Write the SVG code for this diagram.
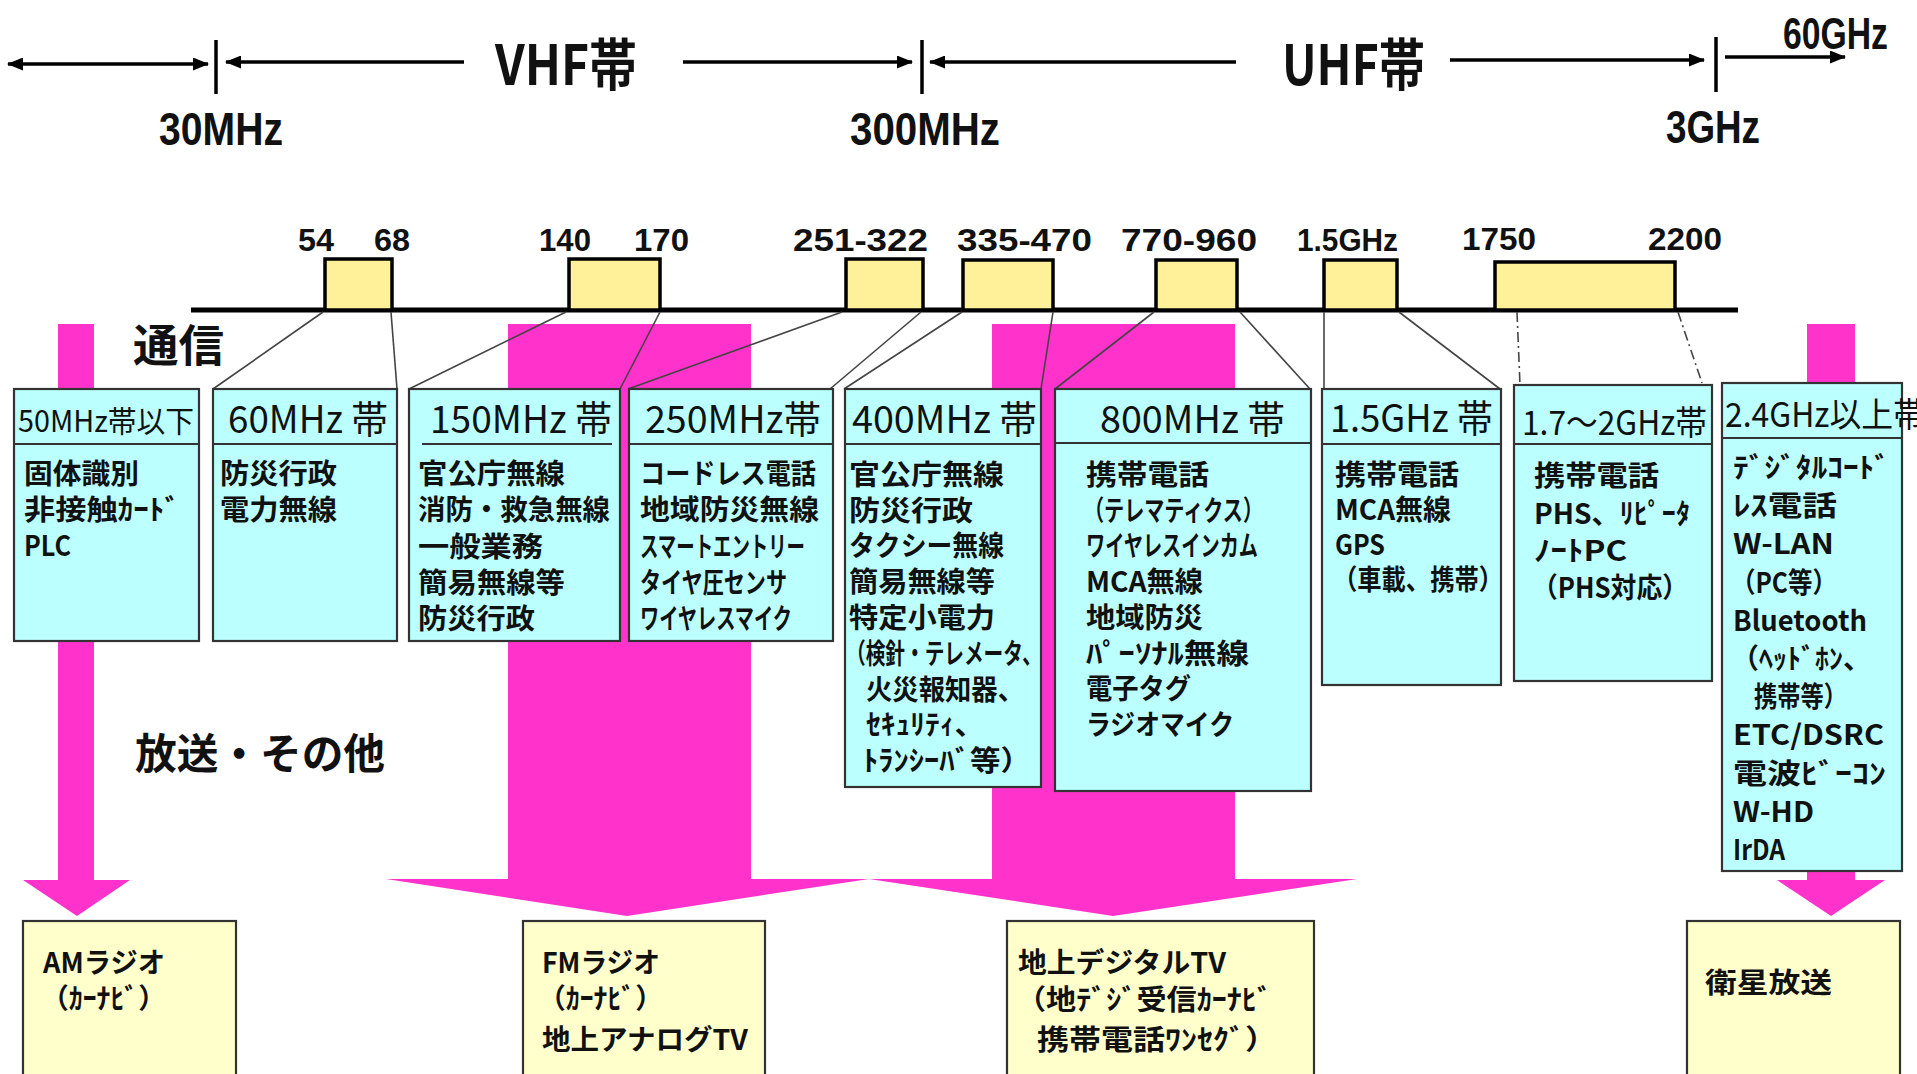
<svg xmlns="http://www.w3.org/2000/svg" width="1917" height="1074" viewBox="0 0 1917 1074">
<style>
.jp{font-family:"Noto Sans CJK JP","Noto Sans",sans-serif;fill:#111}
.b{font-family:"Noto Sans CJK JP","Noto Sans",sans-serif;font-size:28px;font-weight:bold;fill:#111}
.t{font-family:"Noto Sans CJK JP","Noto Sans",sans-serif;font-size:38px;fill:#111}
.lat{font-family:"Liberation Sans",Arial,sans-serif;font-weight:bold;fill:#111}
.lbl{font-family:"Liberation Sans",Arial,sans-serif;font-size:32px;font-weight:bold;fill:#111}
.cyan{fill:#BBFFFF;stroke:#333;stroke-width:2.2}
.band{fill:#FFF19A;stroke:#000;stroke-width:3.5}
.btm{fill:#FFFFCC;stroke:#333;stroke-width:2.2}
.pink{fill:#FF33CC}
.div{stroke:#333;stroke-width:2}
.ax{stroke:#000;stroke-width:3.5;fill:none}
.con{stroke:#444;stroke-width:1.6;fill:none}
.dd{stroke:#444;stroke-width:1.6;fill:none;stroke-dasharray:10 4 2 4}
</style>
<defs>
<marker id="ah" viewBox="0 0 16 13" refX="15" refY="6.5" markerUnits="userSpaceOnUse" markerWidth="16" markerHeight="13" orient="auto-start-reverse">
<path d="M0,0 L16,6.5 L0,13 z" fill="#000"/>
</marker>
</defs>
<rect width="1917" height="1074" fill="#fff"/>

<!-- pink background arrows -->
<g id="pink-arrows">
<rect class="pink" x="58" y="324" width="36" height="558"/>
<polygon class="pink" points="23,880 130,880 77,916"/>
<rect class="pink" x="508" y="324" width="243" height="557"/>
<rect class="pink" x="992" y="324" width="243" height="557"/>
<polygon class="pink" points="386,879 869,879 627,916"/>
<polygon class="pink" points="869,879 1357,879 1113,916"/>
<rect class="pink" x="1807" y="324" width="48" height="558"/>
<polygon class="pink" points="1777,880 1885,880 1831,916"/>
</g>

<!-- top frequency axis -->
<g id="top-axis">
<line class="ax" x1="8" y1="64" x2="208" y2="64" marker-start="url(#ah)" marker-end="url(#ah)"/>
<line class="ax" x1="216" y1="40" x2="216" y2="94"/>
<line class="ax" x1="226" y1="62" x2="464" y2="62" marker-start="url(#ah)"/>
<text class="jp" x="495" y="85" font-size="56" font-weight="bold" textLength="142" lengthAdjust="spacingAndGlyphs">VHF帯</text>
<line class="ax" x1="683" y1="62" x2="912" y2="62" marker-end="url(#ah)"/>
<line class="ax" x1="922" y1="40" x2="922" y2="94"/>
<line class="ax" x1="930" y1="62" x2="1236" y2="62" marker-start="url(#ah)"/>
<text class="jp" x="1282" y="85" font-size="56" font-weight="bold" textLength="143" lengthAdjust="spacingAndGlyphs">UHF帯</text>
<line class="ax" x1="1450" y1="60" x2="1704" y2="60" marker-end="url(#ah)"/>
<line class="ax" x1="1716" y1="37" x2="1716" y2="92"/>
<line class="ax" x1="1725" y1="57" x2="1845" y2="57" stroke-width="2.5" marker-end="url(#ah)"/>
<text class="lat" x="1783" y="49" font-size="44" textLength="105" lengthAdjust="spacingAndGlyphs">60GHz</text>
<text class="lat" x="159" y="145" font-size="46" textLength="124" lengthAdjust="spacingAndGlyphs">30MHz</text>
<text class="lat" x="850" y="145" font-size="46" textLength="150" lengthAdjust="spacingAndGlyphs">300MHz</text>
<text class="lat" x="1666" y="143" font-size="46" textLength="94" lengthAdjust="spacingAndGlyphs">3GHz</text>
</g>

<!-- band axis -->
<g id="band-axis">
<line x1="191" y1="310" x2="1738" y2="310" stroke="#000" stroke-width="5"/>
<rect class="band" x="325" y="259" width="67" height="51"/>
<rect class="band" x="569" y="259" width="91" height="51"/>
<rect class="band" x="846" y="259" width="77" height="51"/>
<rect class="band" x="963" y="260" width="90" height="50"/>
<rect class="band" x="1156" y="260" width="81" height="50"/>
<rect class="band" x="1324" y="260" width="73" height="50"/>
<rect class="band" x="1495" y="262" width="180" height="48"/>
<text class="lbl" x="298" y="251" textLength="36" lengthAdjust="spacingAndGlyphs">54</text>
<text class="lbl" x="374" y="251" textLength="36" lengthAdjust="spacingAndGlyphs">68</text>
<text class="lbl" x="539" y="251" textLength="52" lengthAdjust="spacingAndGlyphs">140</text>
<text class="lbl" x="634" y="251" textLength="55" lengthAdjust="spacingAndGlyphs">170</text>
<text class="lbl" x="793" y="251" textLength="135" lengthAdjust="spacingAndGlyphs">251-322</text>
<text class="lbl" x="957" y="251" textLength="135" lengthAdjust="spacingAndGlyphs">335-470</text>
<text class="lbl" x="1121" y="251" textLength="136" lengthAdjust="spacingAndGlyphs">770-960</text>
<text class="lbl" x="1297" y="251" textLength="101" lengthAdjust="spacingAndGlyphs">1.5GHz</text>
<text class="lbl" x="1462" y="250" textLength="74" lengthAdjust="spacingAndGlyphs">1750</text>
<text class="lbl" x="1648" y="250" textLength="74" lengthAdjust="spacingAndGlyphs">2200</text>
</g>

<g id="section-labels">
<text class="jp" x="133" y="362" font-size="44" font-weight="bold" textLength="91" lengthAdjust="spacingAndGlyphs">通信</text>
<text class="jp" x="135" y="769" font-size="42" font-weight="bold" textLength="250" lengthAdjust="spacingAndGlyphs">放送・その他</text>
</g>

<!-- connectors -->
<g id="connectors">
<line class="con" x1="323" y1="312" x2="213" y2="389"/>
<line class="con" x1="391" y1="312" x2="397" y2="389"/>
<line class="con" x1="566" y1="312" x2="409" y2="389"/>
<line class="con" x1="660" y1="312" x2="620" y2="389"/>
<line class="con" x1="842" y1="312" x2="628" y2="389" stroke-width="2.4"/>
<line class="con" x1="921" y1="312" x2="830" y2="389"/>
<line class="con" x1="962" y1="312" x2="844" y2="389"/>
<line class="con" x1="1053" y1="312" x2="1041" y2="389"/>
<line class="con" x1="1154" y1="312" x2="1055" y2="389"/>
<line class="con" x1="1240" y1="312" x2="1310" y2="389"/>
<line class="con" x1="1324" y1="312" x2="1324" y2="389"/>
<line class="con" x1="1399" y1="312" x2="1500" y2="389"/>
<line class="dd" x1="1517" y1="312" x2="1520" y2="385"/>
<line class="dd" x1="1678" y1="312" x2="1702" y2="383"/>
</g>

<!-- communication boxes -->
<g id="box-50mhz">
<rect class="cyan" x="14" y="389" width="185" height="252"/>
<line class="div" x1="14" y1="444" x2="199" y2="444"/>
<text class="jp" x="18" y="432" font-size="30" textLength="176" lengthAdjust="spacingAndGlyphs">50MHz帯以下</text>
<text class="b" x="24" y="484" textLength="115" lengthAdjust="spacingAndGlyphs">固体識別</text>
<text class="b" x="24" y="520" textLength="156" lengthAdjust="spacingAndGlyphs">非接触ｶｰﾄﾞ</text>
<text class="b" x="24" y="556" textLength="47" lengthAdjust="spacingAndGlyphs">PLC</text>
</g>

<g id="box-60mhz">
<rect class="cyan" x="213" y="389" width="184" height="252"/>
<line class="div" x1="213" y1="444" x2="397" y2="444"/>
<text class="t" x="228" y="433" textLength="160" lengthAdjust="spacingAndGlyphs">60MHz 帯</text>
<text class="b" x="220" y="484" textLength="117" lengthAdjust="spacingAndGlyphs">防災行政</text>
<text class="b" x="220" y="520" textLength="117" lengthAdjust="spacingAndGlyphs">電力無線</text>
</g>

<g id="box-150mhz">
<rect class="cyan" x="409" y="389" width="211" height="252"/>
<line class="div" x1="422" y1="444" x2="612" y2="444"/>
<text class="t" x="430" y="433" textLength="182" lengthAdjust="spacingAndGlyphs">150MHz 帯</text>
<text class="b" x="418" y="484" textLength="147" lengthAdjust="spacingAndGlyphs">官公庁無線</text>
<text class="b" x="418" y="520" textLength="192" lengthAdjust="spacingAndGlyphs">消防・救急無線</text>
<text class="b" x="418" y="557" textLength="125" lengthAdjust="spacingAndGlyphs">一般業務</text>
<text class="b" x="418" y="593" textLength="147" lengthAdjust="spacingAndGlyphs">簡易無線等</text>
<text class="b" x="418" y="629" textLength="117" lengthAdjust="spacingAndGlyphs">防災行政</text>
</g>

<g id="box-250mhz">
<rect class="cyan" x="629" y="389" width="204" height="252"/>
<line class="div" x1="629" y1="444" x2="833" y2="444"/>
<text class="t" x="645" y="433" textLength="176" lengthAdjust="spacingAndGlyphs">250MHz帯</text>
<text class="b" x="640" y="484" textLength="176" lengthAdjust="spacingAndGlyphs">コードレス電話</text>
<text class="b" x="640" y="520" textLength="179" lengthAdjust="spacingAndGlyphs">地域防災無線</text>
<text class="b" x="640" y="557" textLength="165" lengthAdjust="spacingAndGlyphs">スマートエントリー</text>
<text class="b" x="640" y="593" textLength="147" lengthAdjust="spacingAndGlyphs">タイヤ圧センサ</text>
<text class="b" x="640" y="629" textLength="152" lengthAdjust="spacingAndGlyphs">ワイヤレスマイク</text>
</g>

<g id="box-400mhz">
<rect class="cyan" x="845" y="389" width="196" height="398"/>
<line class="div" x1="845" y1="444" x2="1041" y2="444"/>
<text class="t" x="852" y="433" textLength="185" lengthAdjust="spacingAndGlyphs">400MHz 帯</text>
<text class="b" x="849" y="485" textLength="155" lengthAdjust="spacingAndGlyphs">官公庁無線</text>
<text class="b" x="849" y="521" textLength="124" lengthAdjust="spacingAndGlyphs">防災行政</text>
<text class="b" x="849" y="556" textLength="155" lengthAdjust="spacingAndGlyphs">タクシー無線</text>
<text class="b" x="849" y="592" textLength="146" lengthAdjust="spacingAndGlyphs">簡易無線等</text>
<text class="b" x="849" y="628" textLength="146" lengthAdjust="spacingAndGlyphs">特定小電力</text>
<text class="b" x="846" y="664" textLength="196" lengthAdjust="spacingAndGlyphs">（検針・テレメータ、</text>
<text class="b" x="866" y="700" textLength="158" lengthAdjust="spacingAndGlyphs">火災報知器、</text>
<text class="b" x="866" y="735" textLength="118" lengthAdjust="spacingAndGlyphs">ｾｷｭﾘﾃｨ、</text>
<text class="b" x="863" y="771" textLength="168" lengthAdjust="spacingAndGlyphs">ﾄﾗﾝｼｰﾊﾞ等）</text>
</g>

<g id="box-800mhz">
<rect class="cyan" x="1055" y="389" width="256" height="402"/>
<line class="div" x1="1055" y1="443" x2="1311" y2="443"/>
<text class="t" x="1100" y="433" textLength="185" lengthAdjust="spacingAndGlyphs">800MHz 帯</text>
<text class="b" x="1086" y="485" textLength="123" lengthAdjust="spacingAndGlyphs">携帯電話</text>
<text class="b" x="1084" y="521" textLength="179" lengthAdjust="spacingAndGlyphs">（テレマティクス）</text>
<text class="b" x="1086" y="556" textLength="172" lengthAdjust="spacingAndGlyphs">ワイヤレスインカム</text>
<text class="b" x="1086" y="592" textLength="117" lengthAdjust="spacingAndGlyphs">MCA無線</text>
<text class="b" x="1086" y="628" textLength="117" lengthAdjust="spacingAndGlyphs">地域防災</text>
<text class="b" x="1086" y="664" textLength="163" lengthAdjust="spacingAndGlyphs">ﾊﾟｰｿﾅﾙ無線</text>
<text class="b" x="1086" y="699" textLength="105" lengthAdjust="spacingAndGlyphs">電子タグ</text>
<text class="b" x="1086" y="735" textLength="148" lengthAdjust="spacingAndGlyphs">ラジオマイク</text>
</g>

<g id="box-1.5ghz">
<rect class="cyan" x="1322" y="389" width="179" height="296"/>
<line class="div" x1="1322" y1="444" x2="1501" y2="444"/>
<text class="t" x="1330" y="432" textLength="163" lengthAdjust="spacingAndGlyphs">1.5GHz 帯</text>
<text class="b" x="1335" y="485" textLength="124" lengthAdjust="spacingAndGlyphs">携帯電話</text>
<text class="b" x="1335" y="520" textLength="116" lengthAdjust="spacingAndGlyphs">MCA無線</text>
<text class="b" x="1335" y="555" textLength="50" lengthAdjust="spacingAndGlyphs">GPS</text>
<text class="b" x="1333" y="590" textLength="170" lengthAdjust="spacingAndGlyphs">（車載、携帯）</text>
</g>

<g id="box-1.7-2ghz">
<rect class="cyan" x="1514" y="385" width="198" height="296"/>
<line class="div" x1="1514" y1="444" x2="1712" y2="444"/>
<text class="jp" x="1522" y="435" font-size="34" textLength="185" lengthAdjust="spacingAndGlyphs">1.7～2GHz帯</text>
<text class="b" x="1534" y="486" textLength="125" lengthAdjust="spacingAndGlyphs">携帯電話</text>
<text class="b" x="1534" y="524" textLength="156" lengthAdjust="spacingAndGlyphs">PHS、ﾘﾋﾟｰﾀ</text>
<text class="b" x="1534" y="561" textLength="93" lengthAdjust="spacingAndGlyphs">ﾉｰﾄPC</text>
<text class="b" x="1532" y="598" textLength="156" lengthAdjust="spacingAndGlyphs">（PHS対応）</text>
</g>

<g id="box-2.4ghz">
<rect class="cyan" x="1722" y="383" width="180" height="488"/>
<line class="div" x1="1722" y1="438" x2="1902" y2="438"/>
<text class="jp" x="1725" y="427" font-size="34" textLength="200" lengthAdjust="spacingAndGlyphs">2.4GHz以上帯</text>
<text class="b" x="1733" y="478" textLength="157" lengthAdjust="spacingAndGlyphs">ﾃﾞｼﾞﾀﾙｺｰﾄﾞ</text>
<text class="b" x="1733" y="516" textLength="104" lengthAdjust="spacingAndGlyphs">ﾚｽ電話</text>
<text class="b" x="1733" y="554" textLength="101" lengthAdjust="spacingAndGlyphs">W-LAN</text>
<text class="b" x="1731" y="593" textLength="106" lengthAdjust="spacingAndGlyphs">（PC等）</text>
<text class="b" x="1733" y="631" textLength="134" lengthAdjust="spacingAndGlyphs">Bluetooth</text>
<text class="b" x="1731" y="669" textLength="140" lengthAdjust="spacingAndGlyphs">（ﾍｯﾄﾞﾎﾝ、</text>
<text class="b" x="1754" y="707" textLength="93" lengthAdjust="spacingAndGlyphs">携帯等）</text>
<text class="b" x="1733" y="745" textLength="151" lengthAdjust="spacingAndGlyphs">ETC/DSRC</text>
<text class="b" x="1733" y="784" textLength="153" lengthAdjust="spacingAndGlyphs">電波ﾋﾞｰｺﾝ</text>
<text class="b" x="1733" y="822" textLength="81" lengthAdjust="spacingAndGlyphs">W-HD</text>
<text class="b" x="1733" y="860" textLength="52" lengthAdjust="spacingAndGlyphs">IrDA</text>
</g>

<!-- broadcasting boxes -->
<g id="box-am">
<rect class="btm" x="23" y="921" width="213" height="170"/>
<text class="b" x="43" y="973" textLength="122" lengthAdjust="spacingAndGlyphs">AMラジオ</text>
<text class="b" x="41" y="1009" textLength="125" lengthAdjust="spacingAndGlyphs">（ｶｰﾅﾋﾞ）</text>
</g>
<g id="box-fm">
<rect class="btm" x="523" y="921" width="242" height="170"/>
<text class="b" x="542" y="973" textLength="118" lengthAdjust="spacingAndGlyphs">FMラジオ</text>
<text class="b" x="538" y="1009" textLength="125" lengthAdjust="spacingAndGlyphs">（ｶｰﾅﾋﾞ）</text>
<text class="b" x="542" y="1050" textLength="206" lengthAdjust="spacingAndGlyphs">地上アナログTV</text>
</g>
<g id="box-digital">
<rect class="btm" x="1007" y="921" width="307" height="170"/>
<text class="b" x="1018" y="973" textLength="208" lengthAdjust="spacingAndGlyphs">地上デジタルTV</text>
<text class="b" x="1016" y="1010" textLength="256" lengthAdjust="spacingAndGlyphs">（地ﾃﾞｼﾞ受信ｶｰﾅﾋﾞ</text>
<text class="b" x="1037" y="1050" textLength="240" lengthAdjust="spacingAndGlyphs">携帯電話ﾜﾝｾｸﾞ）</text>
</g>
<g id="box-satellite">
<rect class="btm" x="1687" y="921" width="213" height="170"/>
<text class="b" x="1705" y="993" textLength="127" lengthAdjust="spacingAndGlyphs">衛星放送</text>
</g>
</svg>
